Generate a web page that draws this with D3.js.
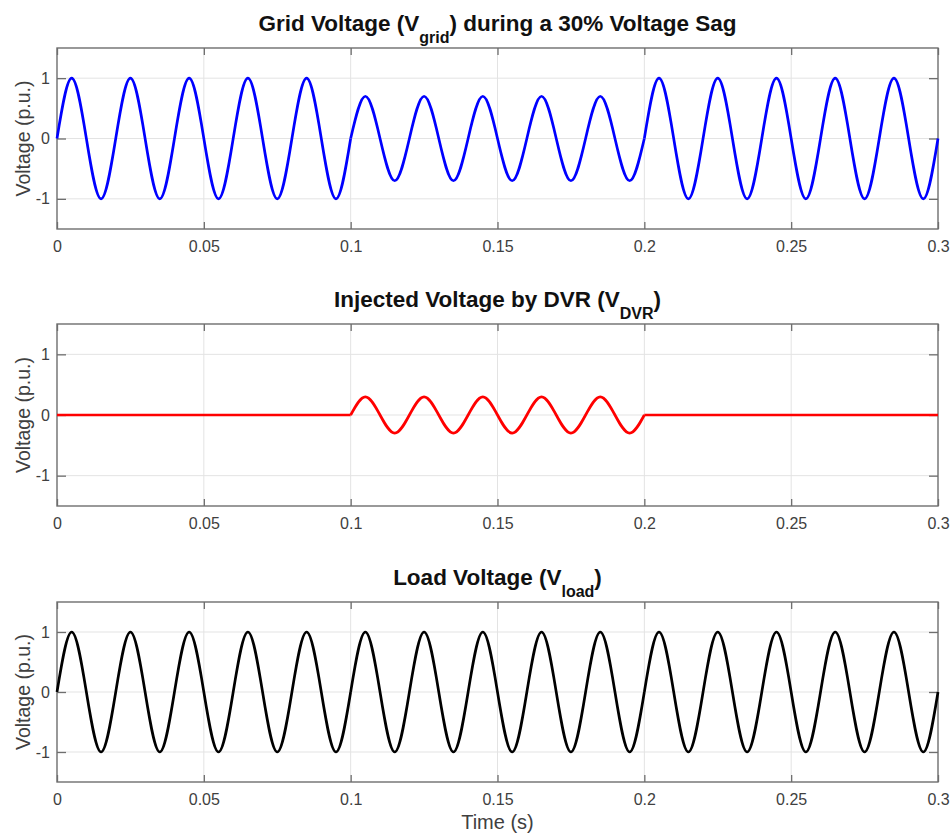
<!DOCTYPE html>
<html>
<head>
<meta charset="utf-8">
<script src="https://cdn.jsdelivr.net/npm/d3@7"></script>
<style>
  body { margin: 0; background: #fff; }
  text { font-family: "Liberation Sans", Arial, Helvetica, sans-serif; }
</style>
</head>
<body>
<div id="chart"></div>
<script>
// time samples (s), one every quarter period of the 50 Hz wave
const time = [0,0.005,0.01,0.015,0.02,0.025,0.03,0.035,0.04,0.045,
  0.05,0.055,0.06,0.065,0.07,0.075,0.08,0.085,0.09,0.095,
  0.1,0.105,0.11,0.115,0.12,0.125,0.13,0.135,0.14,0.145,
  0.15,0.155,0.16,0.165,0.17,0.175,0.18,0.185,0.19,0.195,
  0.2,0.205,0.21,0.215,0.22,0.225,0.23,0.235,0.24,0.245,
  0.25,0.255,0.26,0.265,0.27,0.275,0.28,0.285,0.29,0.295,0.3];

// grid voltage (p.u.), sag to 0.7 between 0.1 and 0.2 s
const vGrid = [0,1,0,-1, 0,1,0,-1, 0,1,0,-1, 0,1,0,-1, 0,1,0,-1,
  0,0.7,0,-0.7, 0,0.7,0,-0.7, 0,0.7,0,-0.7, 0,0.7,0,-0.7, 0,0.7,0,-0.7,
  0,1,0,-1, 0,1,0,-1, 0,1,0,-1, 0,1,0,-1, 0,1,0,-1, 0];

// injected voltage by the DVR (p.u.)
const vDvr = [0,0,0,0, 0,0,0,0, 0,0,0,0, 0,0,0,0, 0,0,0,0,
  0,0.3,0,-0.3, 0,0.3,0,-0.3, 0,0.3,0,-0.3, 0,0.3,0,-0.3, 0,0.3,0,-0.3,
  0,0,0,0, 0,0,0,0, 0,0,0,0, 0,0,0,0, 0,0,0,0, 0];

// load voltage (p.u.)
const vLoad = [0,1,0,-1, 0,1,0,-1, 0,1,0,-1, 0,1,0,-1, 0,1,0,-1,
  0,1,0,-1, 0,1,0,-1, 0,1,0,-1, 0,1,0,-1, 0,1,0,-1,
  0,1,0,-1, 0,1,0,-1, 0,1,0,-1, 0,1,0,-1, 0,1,0,-1, 0];

const xTicks = [0, 0.05, 0.1, 0.15, 0.2, 0.25, 0.3];
const yTicks = [-1, 0, 1];
const sagEvents = [0, 0.1, 0.2, 0.3]; // segment boundaries (sag start / end)

const width = 952, height = 834;
const left = 57, right = 938;
const textColor = "#404040", boxColor = "#6e6e6e", gridColor = "#e3e3e3";

const svg = d3.select("#chart")
  .append("svg")
    .attr("width", width)
    .attr("height", height);

const x = d3.scaleLinear().domain([0, 0.3]).range([left, right]);

const panels = [
  {top: 48, bottom: 229, values: vGrid, color: "#0000ff",
   title: ["Grid Voltage (V", "grid", ") during a 30% Voltage Sag"]},
  {top: 324, bottom: 506, values: vDvr, color: "#ff0000",
   title: ["Injected Voltage by DVR (V", "DVR", ")"]},
  {top: 602, bottom: 782, values: vLoad, color: "#000000",
   title: ["Load Voltage (V", "load", ")"]}
];

panels.forEach(p => {
  const y = d3.scaleLinear().domain([-1.5, 1.5]).range([p.bottom, p.top]);
  const g = svg.append("g");

  // grid lines
  g.selectAll(".vgrid")
    .data(xTicks.slice(1, -1))
    .join("line")
      .attr("x1", d => x(d)).attr("x2", d => x(d))
      .attr("y1", p.top).attr("y2", p.bottom)
      .attr("stroke", gridColor).attr("stroke-width", 1);
  g.selectAll(".hgrid")
    .data(yTicks)
    .join("line")
      .attr("x1", left).attr("x2", right)
      .attr("y1", d => y(d)).attr("y2", d => y(d))
      .attr("stroke", gridColor).attr("stroke-width", 1);

  // axes, ticks pointing inward
  const bottomAx = g.append("g")
    .attr("transform", `translate(0,${p.bottom})`)
    .call(d3.axisBottom(x).tickValues(xTicks).tickSize(-7).tickSizeOuter(0)
      .tickPadding(12).tickFormat(d => d));
  const topAx = g.append("g")
    .attr("transform", `translate(0,${p.top})`)
    .call(d3.axisTop(x).tickValues(xTicks).tickSize(-7).tickSizeOuter(0).tickFormat(""));
  const leftAx = g.append("g")
    .attr("transform", `translate(${left},0)`)
    .call(d3.axisLeft(y).tickValues(yTicks).tickSize(-9).tickSizeOuter(0)
      .tickPadding(7).tickFormat(d => d));
  const rightAx = g.append("g")
    .attr("transform", `translate(${right},0)`)
    .call(d3.axisRight(y).tickValues(yTicks).tickSize(-9).tickSizeOuter(0).tickFormat(""));

  [bottomAx, topAx, leftAx, rightAx].forEach(a => {
    a.select(".domain").remove();
    a.selectAll(".tick line").attr("stroke", boxColor).attr("stroke-width", 1.3);
    a.selectAll(".tick text")
      .attr("fill", textColor)
      .style("font-size", "16px")
      .style("font-family", "'Liberation Sans', Arial, sans-serif");
  });

  // box
  g.append("rect")
    .attr("x", left).attr("y", p.top)
    .attr("width", right - left).attr("height", p.bottom - p.top)
    .attr("fill", "none").attr("stroke", boxColor).attr("stroke-width", 1.4);

  // y label
  g.append("text")
    .attr("transform", `translate(23,${(p.top + p.bottom) / 2}) rotate(-90)`)
    .attr("text-anchor", "middle")
    .attr("dy", "0.35em")
    .attr("fill", textColor)
    .style("font-size", "19.5px")
    .text("Voltage (p.u.)");

  // signal, drawn in segments split at the sag start / end
  const line = d3.line()
    .x(d => x(d.t))
    .y(d => y(d.v))
    .curve(d3.curveNatural);
  const pts = time.map((t, i) => ({t: t, v: p.values[i]}));
  for (let k = 0; k < sagEvents.length - 1; k++) {
    const seg = pts.filter(d => d.t >= sagEvents[k] - 1e-9 && d.t <= sagEvents[k + 1] + 1e-9);
    g.append("path")
      .datum(seg)
      .attr("d", line)
      .attr("fill", "none")
      .attr("stroke", p.color)
      .attr("stroke-width", 2.7)
      .attr("stroke-linejoin", "round");
  }

  // title with subscript
  const title = g.append("text")
    .attr("x", (left + right) / 2)
    .attr("y", p.top - 17)
    .attr("text-anchor", "middle")
    .attr("fill", "#111")
    .style("font-size", "22.5px")
    .style("font-weight", "bold");
  title.append("tspan").text(p.title[0]);
  title.append("tspan").attr("dy", 12).style("font-size", "16px").text(p.title[1]);
  title.append("tspan").attr("dy", -12).text(p.title[2]);
});

// x label
svg.append("text")
  .attr("x", (left + right) / 2)
  .attr("y", 829)
  .attr("text-anchor", "middle")
  .attr("fill", textColor)
  .style("font-size", "20px")
  .text("Time (s)");
</script>
</body>
</html>
